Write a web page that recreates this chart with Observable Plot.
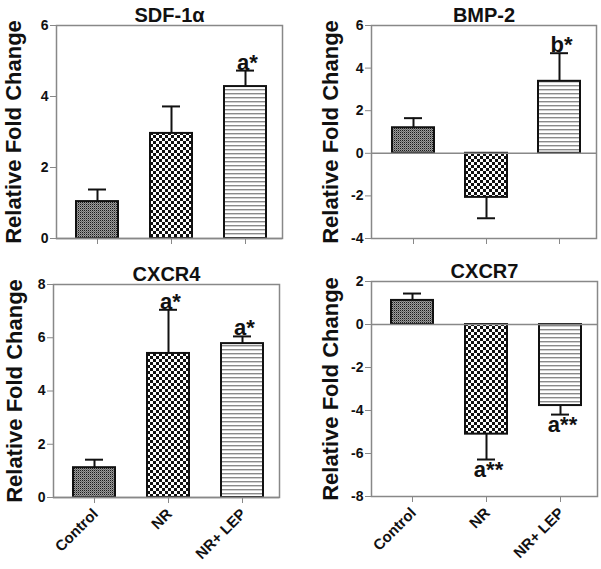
<!DOCTYPE html>
<html><head><meta charset="utf-8">
<script src="https://cdn.jsdelivr.net/npm/d3@7"></script>
<script src="https://cdn.jsdelivr.net/npm/@observablehq/plot@0.6"></script>
<style>
body{margin:0;background:#fff}
#wrap{position:relative;width:601px;height:569px;overflow:hidden;font-family:Arial,"Liberation Sans",sans-serif}
#wrap > svg{position:absolute;overflow:visible}
</style></head><body>
<svg width="0" height="0" style="position:absolute"><defs>
  <pattern id="p0" width="2" height="2" patternUnits="userSpaceOnUse">
    <rect width="2" height="2" fill="#9c9c9c"/>
    <rect width="1" height="1" fill="#1a1a1a"/>
    <rect x="1" y="1" width="1" height="1" fill="#6a6a6a"/>
  </pattern>
  <pattern id="p1" width="6" height="6" patternUnits="userSpaceOnUse">
    <rect width="6" height="6" fill="#fff"/>
    <rect width="3" height="3" fill="#111"/>
    <rect x="3" y="3" width="3" height="3" fill="#111"/>
  </pattern>
  <pattern id="p2" width="4" height="4" patternUnits="userSpaceOnUse">
    <rect width="4" height="4" fill="#fff"/>
    <rect y="1" width="4" height="1.4" fill="#8a8a8a"/>
  </pattern>
</defs></svg>
<div id="wrap"></div>
<script>
// ---- data ----
const groups = ["Control", "NR", "NR+ LEP"];
const fills = ["url(#p0)", "url(#p1)", "url(#p2)"];
const yLabel = "Relative Fold Change";

const sdfTitle = "SDF-1\u03b1";
const sdfMean = [1.04, 2.96, 4.28];
const sdfSem = [0.34, 0.76, 0.45];
const sdfSig = ["", "", "a*"];
const sdfTicks = [0, 2, 4, 6];

const bmpTitle = "BMP-2";
const bmpMean = [1.2, -2.07, 3.38];
const bmpSem = [0.45, 0.98, 1.32];
const bmpSig = ["", "", "b*"];
const bmpTicks = [-4, -2, 0, 2, 4, 6];

const cx4Title = "CXCR4";
const cx4Mean = [1.12, 5.41, 5.78];
const cx4Sem = [0.30, 1.64, 0.27];
const cx4Sig = ["", "a*", "a*"];
const cx4Ticks = [0, 2, 4, 6, 8];

const cx7Title = "CXCR7";
const cx7Mean = [1.12, -5.1, -3.77];
const cx7Sem = [0.32, 1.18, 0.42];
const cx7Sig = ["", "a**", "a**"];
const cx7Ticks = [-8, -6, -4, -2, 0, 2];

const wrap = document.getElementById("wrap");
const FONT = "Arial, 'Liberation Sans', sans-serif";

function panel(cfg) {
  const rows = groups.map((g, i) => {
    const v = cfg.mean[i];
    const end = v >= 0 ? v + cfg.sem[i] : v - cfg.sem[i];
    return {g, v, end, sig: cfg.sig[i], pos: v >= 0};
  });
  const marks = [];
  groups.forEach((g, i) => {
    marks.push(Plot.barY(rows, {filter: d => d.g === g, x: "g", y: "v", fill: fills[i], stroke: "#111", strokeWidth: 2}));
  });
  marks.push(
    Plot.ruleX(rows, {x: "g", y1: "v", y2: "end", stroke: "#111", strokeWidth: 2}),
    Plot.tickY(rows, {x: "g", y: "end", stroke: "#111", strokeWidth: 2, insetLeft: 12, insetRight: 12}),
    Plot.text(rows, {filter: d => d.sig && d.pos, x: "g", y: "end", text: "sig", lineAnchor: "bottom", dy: -1, dx: 2, fontSize: 22, fontWeight: "bold", fill: "#111"}),
    Plot.text(rows, {filter: d => d.sig && !d.pos, x: "g", y: "end", text: "sig", lineAnchor: "top", dy: 2, dx: 2, fontSize: 22, fontWeight: "bold", fill: "#111"}),
    Plot.ruleY([0], {stroke: "#888", strokeWidth: 1.5}),
    Plot.frame({stroke: "#888", strokeWidth: 1.5}),
    Plot.axisY({ticks: cfg.ticks, tickFormat: d => String(d), tickSize: 6, tickPadding: 2, fontSize: 14, fontWeight: "bold", stroke: "#888", fill: "#111", label: null}),
    Plot.axisX({tickSize: 6, tickFormat: () => "", stroke: "#888", label: null}),
    Plot.text([cfg.title], {text: d => d, frameAnchor: "top", lineAnchor: "bottom", dy: -4, fontSize: 20, fontWeight: "bold", fill: "#111"}),
    Plot.text([yLabel], {text: d => d, frameAnchor: "left", textAnchor: "middle", dx: cfg.labelDx, rotate: -90, fontSize: 22, fontWeight: "bold", fill: "#111"})
  );
  if (cfg.showX) {
    marks.push(Plot.text(groups, {x: d => d, text: d => d, frameAnchor: "bottom", rotate: -45, textAnchor: "end", lineAnchor: "middle", dx: 1, dy: 14, fontSize: 15, fontWeight: "bold", fill: "#111"}));
  }
  const svg = Plot.plot({
    width: cfg.w, height: cfg.h,
    marginLeft: cfg.m[0], marginRight: cfg.m[1], marginTop: cfg.m[2], marginBottom: cfg.m[3],
    style: {fontFamily: FONT, background: "transparent", overflow: "visible"},
    x: {domain: groups, paddingInner: 0.43, paddingOuter: 0.24, align: 0.55},
    y: {domain: cfg.domain},
    marks
  });
  svg.style.left = cfg.left + "px";
  svg.style.top = cfg.top + "px";
  wrap.appendChild(svg);
  return svg;
}

panel({title: sdfTitle, mean: sdfMean, sem: sdfSem, sig: sdfSig, ticks: sdfTicks, domain: [0, 6],
  left: 0, top: 0, w: 290, h: 250, m: [56, 8, 25, 12], labelDx: -43, showX: false});
panel({title: bmpTitle, mean: bmpMean, sem: bmpSem, sig: bmpSig, ticks: bmpTicks, domain: [-4, 6],
  left: 300, top: 0, w: 301, h: 250, m: [71, 5, 25, 12], labelDx: -41, showX: false});
panel({title: cx4Title, mean: cx4Mean, sem: cx4Sem, sig: cx4Sig, ticks: cx4Ticks, domain: [0, 8],
  left: 0, top: 260, w: 290, h: 309, m: [53, 11, 24, 72], labelDx: -39, showX: true});
panel({title: cx7Title, mean: cx7Mean, sem: cx7Sem, sig: cx7Sig, ticks: cx7Ticks, domain: [-8, 2],
  left: 300, top: 260, w: 301, h: 309, m: [71, 4, 21, 73], labelDx: -41, showX: true});
</script>
</body></html>
